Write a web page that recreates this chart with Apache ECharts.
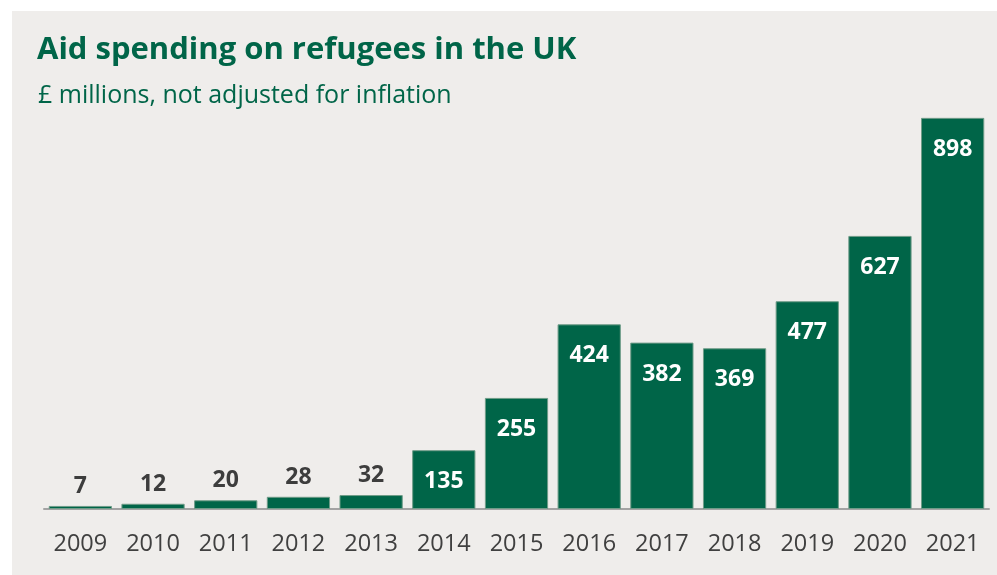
<!DOCTYPE html>
<html>
<head>
<meta charset="utf-8">
<script src="https://cdn.jsdelivr.net/npm/echarts@6/dist/echarts.min.js"></script>
<style>
html,body{margin:0;padding:0;background:#ffffff;}
#chart{width:997px;height:575px;}
</style>
</head>
<body>
<div id="chart"></div>
<script>
const years = ['2009','2010','2011','2012','2013','2014','2015','2016','2017','2018','2019','2020','2021'];
const spending = [7, 12, 20, 28, 32, 135, 255, 424, 382, 369, 477, 627, 898];
const titleText = 'Aid spending on refugees in the UK';
const subtitleText = '£ millions, not adjusted for inflation';

const green = '#006548';
const chart = echarts.init(document.getElementById('chart'));
const data = spending.map(v => ({
  value: v,
  label: v < 100
    ? { position: 'top', color: '#3d3d3d', distance: 8 }
    : { position: 'insideTop', color: '#ffffff', distance: 20 }
}));
chart.setOption({
  animation: false,
  backgroundColor: '#ffffff',
  graphic: [{
    type: 'rect', z: -10, silent: true,
    shape: { x: 12, y: 11, width: 985, height: 564 },
    style: { fill: '#efedeb' }
  }],
  title: [{
    text: titleText,
    left: 32, top: 30,
    textStyle: { fontFamily: 'Open Sans', fontWeight: 'bold', fontSize: 31, color: green }
  }, {
    text: subtitleText,
    left: 33, top: 78,
    textStyle: { fontFamily: 'Open Sans', fontWeight: 'normal', fontSize: 25, color: green }
  }],
  grid: { left: 44, right: 8, top: 117, bottom: 66 },
  xAxis: {
    type: 'category',
    data: years,
    axisLine: { lineStyle: { color: '#a3a3a3', width: 2 } },
    axisTick: { show: false },
    axisLabel: { fontFamily: 'Open Sans', fontSize: 23.5, color: '#404040', margin: 23 }
  },
  yAxis: {
    type: 'value', min: 0, max: 900, show: false,
    splitLine: { show: false }
  },
  series: [{
    type: 'bar',
    data: data,
    barCategoryGap: '13%',
    itemStyle: { color: green, borderColor: '#6f9c88', borderWidth: 1 },
    label: {
      show: true,
      fontFamily: 'Open Sans', fontWeight: 'bold', fontSize: 23
    }
  }]
});
</script>
</body>
</html>
